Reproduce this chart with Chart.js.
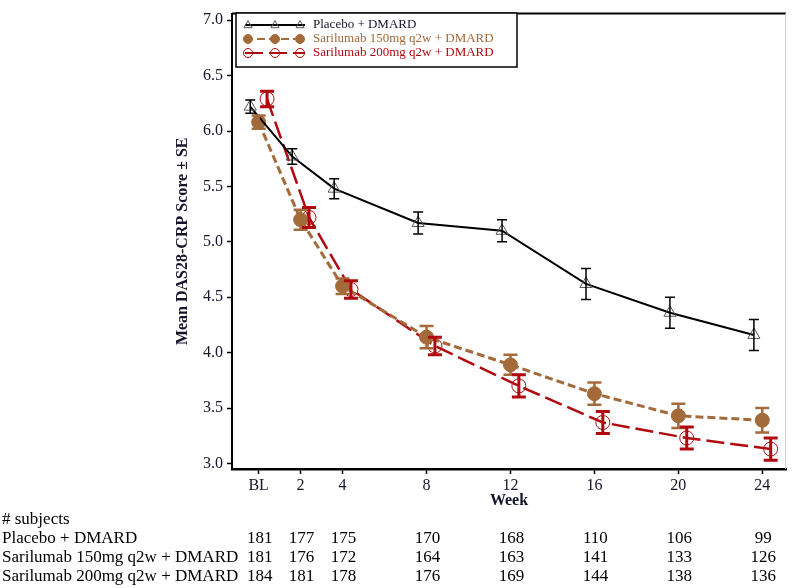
<!DOCTYPE html>
<html>
<head>
<meta charset="UTF-8">
<title>Mean DAS28-CRP Score by Week</title>
<script src="https://cdn.jsdelivr.net/npm/chart.js"></script>
<style>
    body { margin: 0; background: #fff; }
    #wrap { width: 794px; height: 588px; }
</style>
</head>
<body>
<div id="wrap"><canvas id="dasChart" width="794" height="588"></canvas></div>
<script>
// weeks on the x axis (BL = week 0)
const weeks = [0, 2, 4, 8, 12, 16, 20, 24];
const weekLabels = ['BL', '2', '4', '8', '12', '16', '20', '24'];
const yTicks = [3.0, 3.5, 4.0, 4.5, 5.0, 5.5, 6.0, 6.5, 7.0];

const seriesNames = ['Placebo + DMARD', 'Sarilumab 150mg q2w + DMARD', 'Sarilumab 200mg q2w + DMARD'];

// mean DAS28-CRP and standard error
const placeboMean = [6.22, 5.77, 5.48, 5.17, 5.10, 4.62, 4.36, 4.16];
const placeboSE   = [0.06, 0.07, 0.09, 0.10, 0.10, 0.14, 0.14, 0.14];
const sari150Mean = [6.08, 5.20, 4.60, 4.14, 3.89, 3.63, 3.43, 3.39];
const sari150SE   = [0.06, 0.09, 0.07, 0.10, 0.09, 0.10, 0.11, 0.11];
const sari200Mean = [6.29, 5.22, 4.57, 4.06, 3.70, 3.37, 3.23, 3.13];
const sari200SE   = [0.07, 0.09, 0.08, 0.08, 0.10, 0.10, 0.10, 0.10];

// # subjects per week
const placeboN = [181, 177, 175, 170, 168, 110, 106, 99];
const sari150N = [181, 176, 172, 164, 163, 141, 133, 126];
const sari200N = [184, 181, 178, 176, 169, 144, 138, 136];

const BLACK = '#000000';
const BROWN = '#A36A3A';
const RED = '#B00A10';
const TEXT = '#14142a';
const SERIF = '"Liberation Serif", "Times New Roman", serif';

// small horizontal dodge so error bars don't sit on top of each other
const dodge = [-0.4, 0, 0.4];

function toPoints(means, shift) {
    return weeks.map((w, i) => ({ x: w + shift, y: means[i] }));
}

const errorBars = {
    id: 'errorBars',
    afterDatasetsDraw(chart) {
        const { ctx, scales: { x, y } } = chart;
        chart.data.datasets.forEach(ds => {
            ctx.save();
            ctx.strokeStyle = ds.borderColor;
            ctx.lineWidth = ds.errWidth;
            ctx.setLineDash([]);
            ds.data.forEach((p, i) => {
                const px = x.getPixelForValue(p.x);
                const top = y.getPixelForValue(p.y + ds.se[i]);
                const bot = y.getPixelForValue(p.y - ds.se[i]);
                const c = ds.capHalf;
                ctx.beginPath();
                ctx.moveTo(px, top); ctx.lineTo(px, bot);
                ctx.moveTo(px - c, top); ctx.lineTo(px + c, top);
                ctx.moveTo(px - c, bot); ctx.lineTo(px + c, bot);
                ctx.stroke();
            });
            ctx.restore();
        });
    }
};

function drawMarker(ctx, ds, cx, cy, r) {
    ctx.save();
    ctx.setLineDash([]);
    ctx.lineWidth = 1;
    ctx.strokeStyle = ds.pointBorderColor;
    ctx.beginPath();
    if (ds.pointStyle === 'triangle') {
        ctx.moveTo(cx, cy - r);
        ctx.lineTo(cx + r * 0.9, cy + r * 0.6);
        ctx.lineTo(cx - r * 0.9, cy + r * 0.6);
        ctx.closePath();
    } else {
        ctx.arc(cx, cy, r, 0, Math.PI * 2);
    }
    if (ds.pointBackgroundColor !== 'transparent') {
        ctx.fillStyle = ds.pointBackgroundColor;
        ctx.fill();
    }
    ctx.stroke();
    ctx.restore();
}

const extras = {
    id: 'extras',
    afterDraw(chart) {
        const { ctx, chartArea: a, scales: { x } } = chart;
        ctx.save();
        // top and right frame
        ctx.strokeStyle = BLACK;
        ctx.lineWidth = 2;
        ctx.beginPath();
        ctx.moveTo(a.left, a.top); ctx.lineTo(a.right, a.top);
        ctx.stroke();
        ctx.strokeStyle = '#d0d0d0';
        ctx.lineWidth = 1;
        ctx.beginPath();
        ctx.moveTo(a.right - 0.5, a.top); ctx.lineTo(a.right - 0.5, a.bottom);
        ctx.stroke();

        // legend box
        const lx = 236, ly = 13, lw = 281, lh = 54;
        ctx.fillStyle = '#fff';
        ctx.fillRect(lx, ly, lw, lh);
        ctx.strokeStyle = BLACK;
        ctx.lineWidth = 1.5;
        ctx.strokeRect(lx, ly, lw, lh);
        ctx.font = '13px ' + SERIF;
        ctx.textBaseline = 'middle';
        chart.data.datasets.forEach((ds, i) => {
            const ry = ly + 12 + i * 14;
            ctx.strokeStyle = ds.borderColor;
            ctx.lineWidth = 2;
            ctx.setLineDash(ds.legendDash);
            ctx.beginPath();
            ctx.moveTo(245, ry); ctx.lineTo(305, ry);
            ctx.stroke();
            [248, 275, 300].forEach(mx => drawMarker(ctx, ds, mx, ry, 4.5));
            ctx.fillStyle = ds.borderColor === BLACK ? TEXT : ds.borderColor;
            ctx.fillText(ds.label, 313, ry);
        });

        // subjects table
        ctx.setLineDash([]);
        ctx.fillStyle = BLACK;
        ctx.font = '17px ' + SERIF;
        ctx.textAlign = 'left';
        ctx.fillText('# subjects', 2, 520);
        const rows = [placeboN, sari150N, sari200N];
        rows.forEach((row, r) => {
            const ry = 539 + r * 19;
            ctx.textAlign = 'left';
            ctx.fillText(seriesNames[r], 2, ry);
            ctx.textAlign = 'center';
            row.forEach((n, i) => {
                ctx.fillText(String(n), x.getPixelForValue(weeks[i]) + 1, ry);
            });
        });
        ctx.restore();
    }
};

new Chart(document.getElementById('dasChart'), {
    type: 'line',
    data: {
        datasets: [
            {
                label: seriesNames[0],
                data: toPoints(placeboMean, dodge[0]),
                se: placeboSE, errWidth: 1.5, capHalf: 5,
                borderColor: BLACK, borderWidth: 2,
                pointStyle: 'triangle', pointRadius: 7,
                pointBackgroundColor: 'transparent', pointBorderColor: '#555', pointBorderWidth: 1,
                legendDash: []
            },
            {
                label: seriesNames[1],
                data: toPoints(sari150Mean, dodge[1]),
                se: sari150SE, errWidth: 2.5, capHalf: 7,
                borderColor: BROWN, borderWidth: 3, borderDash: [8, 4],
                pointStyle: 'circle', pointRadius: 7,
                pointBackgroundColor: BROWN, pointBorderColor: BROWN, pointBorderWidth: 1,
                legendDash: [8, 4]
            },
            {
                label: seriesNames[2],
                data: toPoints(sari200Mean, dodge[2]),
                se: sari200SE, errWidth: 3, capHalf: 7,
                borderColor: RED, borderWidth: 2.5, borderDash: [18, 6],
                pointStyle: 'circle', pointRadius: 7,
                pointBackgroundColor: 'transparent', pointBorderColor: RED, pointBorderWidth: 1,
                legendDash: [18, 6]
            }
        ]
    },
    options: {
        responsive: false,
        animation: false,
        layout: { padding: { top: 7, right: 1, left: 0, bottom: 0 } },
        plugins: {
            legend: { display: false },
            tooltip: { enabled: false }
        },
        scales: {
            x: {
                type: 'linear',
                min: -1.27,
                max: 25.13,
                afterBuildTicks: s => { s.ticks = weeks.map(v => ({ value: v })); },
                afterFit: s => { s.height = 119; },
                ticks: {
                    autoSkip: false, maxRotation: 0, padding: 2,
                    color: TEXT,
                    font: { family: SERIF, size: 16 },
                    callback: v => weekLabels[weeks.indexOf(v)]
                },
                grid: { drawOnChartArea: false, tickLength: 5, color: BLACK, tickWidth: 1.5 },
                border: { color: BLACK, width: 2.5 },
                title: {
                    display: true, text: 'Week', color: TEXT,
                    font: { family: SERIF, size: 16, weight: 'bold' },
                    padding: { top: 0, bottom: 78 }
                }
            },
            y: {
                min: 2.95,
                max: 7.06,
                afterBuildTicks: s => { s.ticks = yTicks.map(v => ({ value: v })); },
                afterFit: s => { s.width = 232; },
                ticks: {
                    padding: 4, color: TEXT,
                    font: { family: SERIF, size: 16 },
                    callback: v => v.toFixed(1)
                },
                grid: { drawOnChartArea: false, tickLength: 5, color: BLACK, tickWidth: 1.5 },
                border: { color: BLACK, width: 2 },
                title: {
                    display: true, text: 'Mean DAS28-CRP Score ± SE', color: TEXT,
                    font: { family: SERIF, size: 16, weight: 'bold' },
                    padding: { top: 173, bottom: 0 }
                }
            }
        }
    },
    plugins: [errorBars, extras]
});
</script>
</body>
</html>
